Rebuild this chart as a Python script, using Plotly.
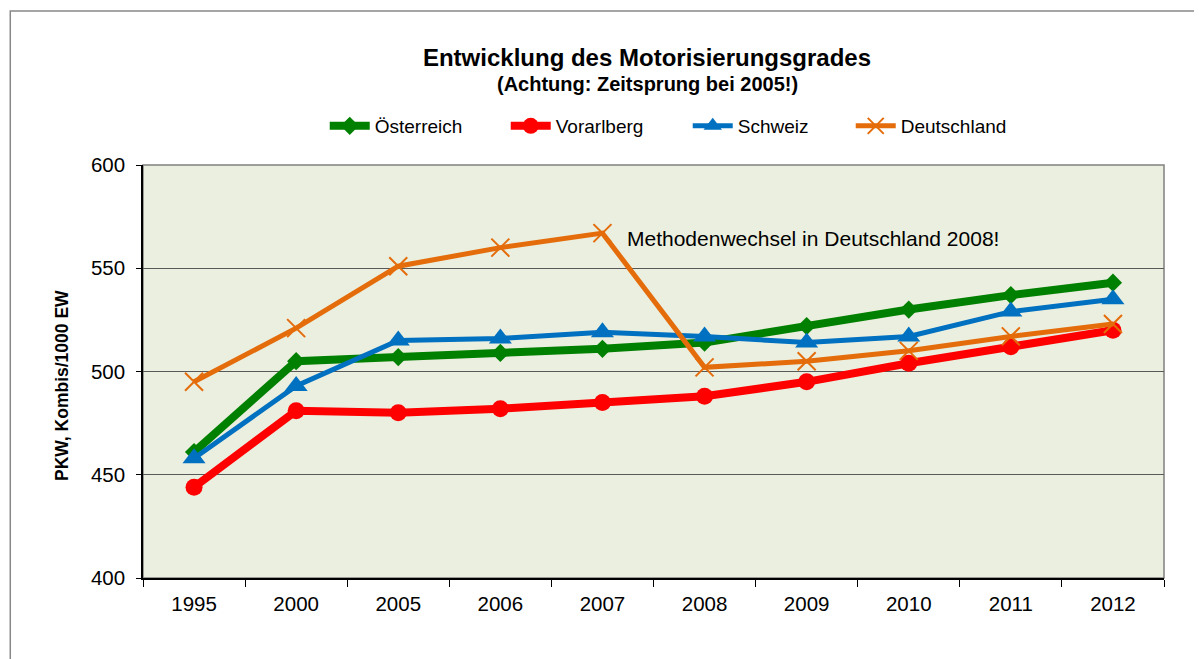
import plotly.graph_objects as go

years = ["1995", "2000", "2005", "2006", "2007", "2008", "2009", "2010", "2011", "2012"]
oesterreich = [461, 505, 507, 509, 511, 514, 522, 530, 537, 543]
vorarlberg = [444, 481, 480, 482, 485, 488, 495, 504, 512, 520]
schweiz = [458, 493, 515, 516, 519, 517, 514, 517, 529, 535]
deutschland = [495, 521, 551, 560, 567, 502, 505, 510, 517, 523]

FONT = "Liberation Sans, Arial, sans-serif"

fig = go.Figure()
fig.add_trace(go.Scatter(x=years, y=oesterreich, name="Österreich", mode="lines+markers",
                         line=dict(color="#008000", width=8), legendwidth=126,
                         marker=dict(symbol="diamond", size=14, color="#008000")))
fig.add_trace(go.Scatter(x=years, y=vorarlberg, name="Vorarlberg", mode="lines+markers",
                         line=dict(color="#FF0000", width=8), legendwidth=127,
                         marker=dict(symbol="circle", size=17, color="#FF0000")))
fig.add_trace(go.Scatter(x=years, y=schweiz, name="Schweiz", mode="lines+markers",
                         line=dict(color="#0070C0", width=5), legendwidth=108,
                         marker=dict(symbol="triangle-up", size=20, color="#0070C0")))
fig.add_trace(go.Scatter(x=years, y=deutschland, name="Deutschland", mode="lines+markers",
                         line=dict(color="#E46C0A", width=5), legendwidth=130,
                         marker=dict(symbol="x-thin-open", size=18, color="#E46C0A",
                                     line=dict(color="#E46C0A", width=2))))

W, H = 1194, 651
fig.update_layout(
    width=W, height=H,
    margin=dict(l=135, r=38, t=157, b=81),
    paper_bgcolor="white",
    plot_bgcolor="#EBEFDF",
    font=dict(family=FONT, size=20, color="black"),
    title=dict(text="<b>Entwicklung des Motorisierungsgrades</b>",
               x=639 / W, xanchor="center", y=1 - 41 / H, yanchor="top",
               font=dict(family=FONT, size=24, color="black")),
    legend=dict(orientation="h", x=0.178, xanchor="left", y=1.0944, yanchor="middle",
                font=dict(family=FONT, size=19, color="black"),
                bgcolor="rgba(0,0,0,0)", itemwidth=40, traceorder="normal"),
    showlegend=True,
)

fig.update_xaxes(type="category", range=[-0.5, 9.5], tickson="boundaries",
                 ticks="outside", ticklen=7, tickcolor="black",
                 showline=True, linecolor="black", linewidth=1.5, mirror=False,
                 showgrid=False, tickfont=dict(size=20.5), ticklabelstandoff=7)
fig.update_yaxes(range=[400, 600], dtick=50, ticks="outside", ticklen=5, tickcolor="black",
                 showline=True, linecolor="black", linewidth=1.5,
                 showgrid=True, gridcolor="#595959", gridwidth=1,
                 tickfont=dict(size=20.5), ticklabelstandoff=7)

# y-axis title (placed like the original, slightly below the axis centre)
fig.add_annotation(text="<b>PKW, Kombis/1000 EW</b>", xref="paper", yref="paper",
                   x=(54 - 135) / 1021, y=(570 - 378) / 413, xanchor="center", yanchor="middle",
                   textangle=-90, showarrow=False, font=dict(family=FONT, size=17.5, color="black"))

# plot area border (top/right gray)
fig.add_shape(type="rect", xref="paper", yref="paper", x0=0, x1=1, y0=0, y1=1,
              line=dict(color="#808080", width=1.5), layer="below")
# outer chart border
fig.add_shape(type="rect", xref="paper", yref="paper", x0=-0.130, x1=1.2, y0=-0.3, y1=1.373,
              line=dict(color="#888888", width=1.5))

# subtitle line
fig.add_annotation(text="<b>(Achtung: Zeitsprung bei 2005!)</b>", xref="paper", yref="paper",
                   x=(639 - 135) / 1021, y=(570 - 76) / 413, xanchor="center", yanchor="middle",
                   showarrow=False, font=dict(family=FONT, size=20, color="black"))

fig.add_annotation(text="Methodenwechsel in Deutschland 2008!", xref="paper", yref="paper",
                   x=(617 - 135) / 1021, y=(570 - 230) / 413, xanchor="left", yanchor="middle",
                   showarrow=False, font=dict(family=FONT, size=21, color="black"))

fig.write_html("out.html")
